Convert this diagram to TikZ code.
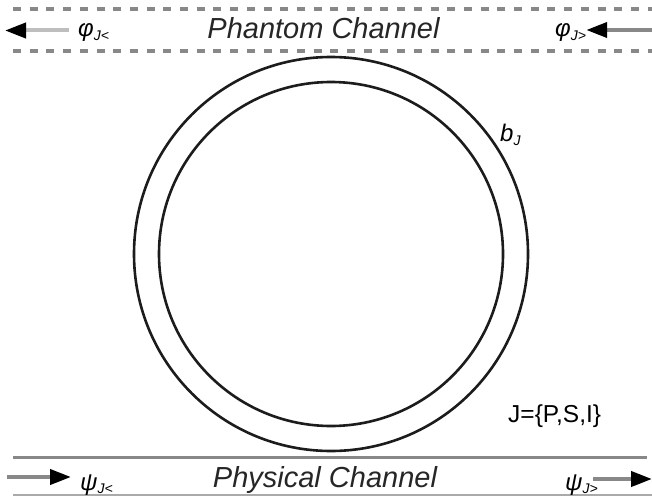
\documentclass[tikz,border=0pt]{standalone}
\usepackage{fontspec}
\setmainfont{Liberation Sans}
\usetikzlibrary{arrows.meta,positioning}
\definecolor{chgray}{RGB}{136,136,136}
\definecolor{palegray}{RGB}{190,190,190}
\definecolor{thingray}{RGB}{170,170,170}
\definecolor{ringblack}{RGB}{28,28,28}
\newcommand{\fieldlab}[2]{#1\raisebox{-0.3ex}{\fontsize{14}{14}\selectfont #2}}

\begin{document}
\begin{tikzpicture}[x=1pt, y=-1pt,
  every node/.style={inner sep=0pt, font=\itshape\fontsize{24}{24}\selectfont},
  title/.style={font=\itshape\fontsize{29}{29}\selectfont, text=black!85},
  ring/.style={circle, draw=ringblack, line width=2.6pt},
  flow/.style={line width=4pt, -{Triangle[length=21pt, width=15pt, color=black]}}]
\useasboundingbox (0,0) rectangle (652,497);
% phantom channel
\draw[chgray, line width=3.5pt, dash pattern=on 8pt off 8.7pt] (13,9)--(652,9);
\draw[chgray, line width=3.5pt, dash pattern=on 8pt off 8.7pt] (13,51)--(652,51);
\node[title, anchor=base] (phantom) at (323.5,39) {Phantom Channel};
\node[anchor=base west] (phiL) at (78,37) {\fieldlab{φ}{J<}};
\node[anchor=base west] (phiR) at (555,37) {\fieldlab{φ}{J>}};
\coordinate (tlend) at (5,30.5);
\coordinate (trstart) at (652,30);
\draw[flow, palegray, shorten <=9pt] (tlend -| phiL.west) -- (tlend);
\draw[flow, chgray] (trstart) -- (trstart -| phiR.east);
% physical channel
\draw[chgray, line width=3pt] (13,457)--(647,457);
\draw[thingray, line width=1.5pt] (13,495)--(652,495);
\node[title, anchor=base] (physical) at (325,487) {Physical Channel};
\node[anchor=base west] (psiL) at (80,490) {\fieldlab{ψ}{J<}};
\node[anchor=base west] (psiR) at (565,490) {\fieldlab{ψ}{J>}};
\coordinate (blstart) at (7,477);
\coordinate (brend) at (652,479);
\draw[flow, chgray, shorten >=9pt] (blstart) -- (blstart -| psiL.west);
\draw[flow, chgray, shorten <=-5pt] (brend -| psiR.east) -- (brend);
% ring resonator
\node[ring, minimum size=394pt] (outer) at (331,254) {};
\node[ring, minimum size=344pt] (inner) at (outer.center) {};
\node[anchor=base west] (bJ) at (500,142) {\fieldlab{b}{J}};
\node[anchor=base west, font=\fontsize{24.5}{24.5}\selectfont] (modes) at (508,422) {J=\{P,S,I\}};
\end{tikzpicture}
\end{document}
